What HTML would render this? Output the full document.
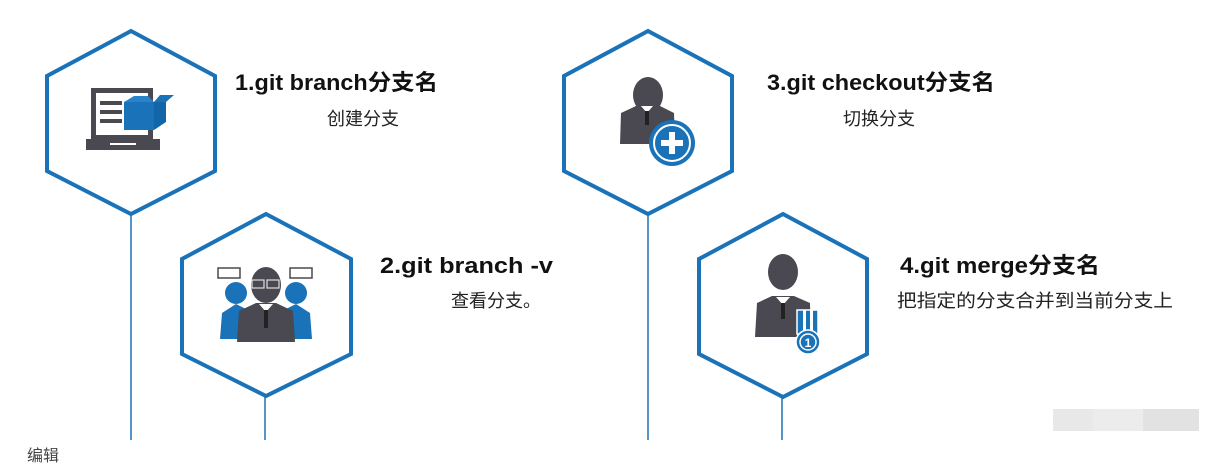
<!DOCTYPE html>
<html><head><meta charset="utf-8"><style>
html,body{margin:0;padding:0;background:#fff;width:1209px;height:463px;overflow:hidden}
svg{display:block}
.t{font-family:"Liberation Sans","Noto Sans CJK SC",sans-serif;font-weight:bold;font-size:22px;fill:#111}
.s{font-family:"Liberation Sans","Noto Sans CJK SC",sans-serif;font-size:18px;fill:#222}
</style></head><body>
<svg width="1209" height="463" viewBox="0 0 1209 463" xmlns="http://www.w3.org/2000/svg">
<g stroke="#1a72b8" stroke-width="1.5">
<line x1="131" y1="214" x2="131" y2="440"/>
<line x1="265" y1="396" x2="265" y2="440"/>
<line x1="648" y1="214" x2="648" y2="440"/>
<line x1="782" y1="397" x2="782" y2="440"/>
</g>
<g fill="#fff" stroke="#1a72b8" stroke-width="4">
<polygon points="131,31 215,76 215,171 131,214 47,171 47,76"/>
<polygon points="266,214 351,259 351,354 266,396 182,354 182,259"/>
<polygon points="648,31 732,76 732,171 648,214 564,171 564,76"/>
<polygon points="783,214 867,259 867,354 783,397 699,354 699,259"/>
</g>
<g>
<rect x="91" y="88" width="62" height="52" fill="#4a4850"/>
<rect x="96" y="93" width="52" height="42" fill="#fff"/>
<rect x="100" y="101" width="22" height="4" fill="#4a4850"/>
<rect x="100" y="110" width="22" height="4" fill="#4a4850"/>
<rect x="100" y="119" width="22" height="4" fill="#4a4850"/>
<polygon points="86,139 160,139 160,150 86,150" fill="#4a4850"/>
<rect x="110" y="143" width="26" height="2" fill="#fff"/>
<polygon points="124,102 154,102 154,130 124,130" fill="#1a72b8"/>
<polygon points="154,102 166,96 166,122 154,130" fill="#1266a8"/>
<polygon points="124,102 134,96 148,96 154,102" fill="#2a82c8"/>
<polygon points="154,102 160,95 174,95 166,102" fill="#1a72b8"/>
</g>
<g>
<rect x="218" y="268" width="22" height="10" fill="#fff" stroke="#4a4850" stroke-width="1.5"/>
<rect x="290" y="268" width="22" height="10" fill="#fff" stroke="#4a4850" stroke-width="1.5"/>
<circle cx="236" cy="293" r="11" fill="#1a72b8"/>
<path d="M220 339 L222 313 L236 304 L252 312 L252 339 Z" fill="#1a72b8"/>
<circle cx="296" cy="293" r="11" fill="#1a72b8"/>
<path d="M280 339 L280 312 L296 304 L310 313 L312 339 Z" fill="#1a72b8"/>
<ellipse cx="266" cy="285" rx="15" ry="18" fill="#4a4850"/>
<rect x="252" y="280" width="12" height="8" fill="none" stroke="#ddd" stroke-width="1.2"/>
<rect x="267" y="280" width="12" height="8" fill="none" stroke="#ddd" stroke-width="1.2"/>
<path d="M237 342 L239 311 L256 303 L276 303 L293 311 L295 342 Z" fill="#4a4850"/>
<polygon points="259,304 266,312 273,304" fill="#fff"/>
<rect x="264" y="310" width="4" height="18" fill="#222"/>
</g>
<g>
<ellipse cx="648" cy="95" rx="15" ry="18" fill="#4a4850"/>
<path d="M620 144 L621 113 L638 105 L658 105 L674 113 L675 144 Z" fill="#4a4850"/>
<polygon points="641,106 647,113 653,106" fill="#fff"/>
<rect x="645" y="111" width="4" height="14" fill="#222"/>
<circle cx="672" cy="143" r="23" fill="#1a72b8"/>
<circle cx="672" cy="143" r="18" fill="#1a72b8" stroke="#fff" stroke-width="2"/>
<rect x="661" y="140" width="22" height="6" fill="#fff"/>
<rect x="669" y="132" width="6" height="22" fill="#fff"/>
</g>
<g>
<ellipse cx="783" cy="272" rx="15" ry="18" fill="#4a4850"/>
<path d="M755 337 L757 303 L772 296 L794 296 L810 303 L811 337 Z" fill="#4a4850"/>
<polygon points="776,297 783,305 790,297" fill="#fff"/>
<rect x="781" y="303" width="4" height="16" fill="#222"/>
<rect x="797" y="310" width="21" height="24" fill="#1a72b8" stroke="#fff" stroke-width="1.5"/>
<rect x="803" y="310" width="3" height="24" fill="#fff"/>
<rect x="810" y="310" width="3" height="24" fill="#fff"/>
<circle cx="808" cy="342" r="12" fill="#1a72b8" stroke="#fff" stroke-width="1.5"/>
<circle cx="808" cy="342" r="8" fill="none" stroke="#fff" stroke-width="1.5"/>
<text x="808" y="347" text-anchor="middle" font-family="Liberation Sans,sans-serif" font-size="12" font-weight="bold" fill="#fff">1</text>
</g>
<text class="t" x="235" y="90" textLength="203" lengthAdjust="spacingAndGlyphs">1.git branch分支名</text>
<text class="s" x="327" y="125">创建分支</text>
<text class="t" x="380" y="273" textLength="173" lengthAdjust="spacingAndGlyphs">2.git  branch -v</text>
<text class="s" x="451" y="307">查看分支。</text>
<text class="t" x="767" y="90" textLength="228" lengthAdjust="spacingAndGlyphs">3.git checkout分支名</text>
<text class="s" x="843" y="125">切换分支</text>
<text class="t" x="900" y="273" textLength="200" lengthAdjust="spacingAndGlyphs">4.git merge分支名</text>
<text class="s" x="897" y="307" textLength="276" lengthAdjust="spacingAndGlyphs">把指定的分支合并到当前分支上</text>
<rect x="1053" y="409" width="40" height="22" fill="#e8e8e8"/>
<rect x="1093" y="409" width="50" height="22" fill="#ececec"/>
<rect x="1143" y="409" width="56" height="22" fill="#e2e2e2"/>
<text x="27" y="461" font-family="Liberation Sans,'Noto Sans CJK SC',sans-serif" font-size="16" fill="#444">编辑</text>
</svg>
</body></html>
